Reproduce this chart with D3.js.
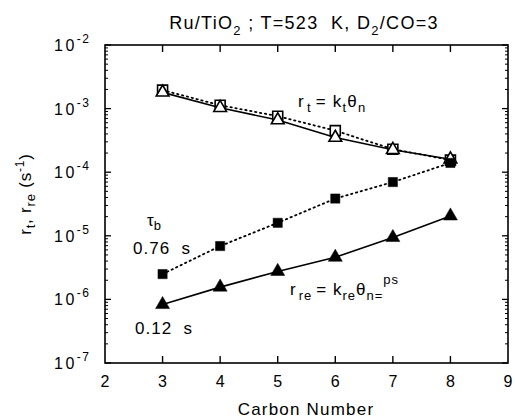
<!DOCTYPE html>
<html>
<head>
<meta charset="utf-8">
<script src="https://cdn.jsdelivr.net/npm/d3@7"></script>
<style>
  html, body { margin: 0; padding: 0; background: #fff; }
  svg { display: block; font-family: "Liberation Sans", Arial, Helvetica, sans-serif; }
</style>
</head>
<body>
<svg id="chart" width="515" height="420"></svg>
<script>
// Carbon number on the x axis
const carbonNumbers = [3, 4, 5, 6, 7, 8];
// r_t for the two residence times (open markers)
const rtOpenSquare   = [1.95e-3, 1.13e-3, 7.6e-4, 4.5e-4, 2.3e-4, 1.55e-4];
const rtOpenTriangle = [1.8e-3, 1.03e-3, 6.6e-4, 3.5e-4, 2.25e-4, 1.6e-4];
// r_re for the two residence times (filled markers)
const rreFilledSquare   = [2.5e-6, 6.9e-6, 1.6e-5, 3.85e-5, 7.0e-5, 1.4e-4];
const rreFilledTriangle = [8.3e-7, 1.56e-6, 2.75e-6, 4.6e-6, 9.4e-6, 2.05e-5];
// Axis ticks
const xTicks = [2, 3, 4, 5, 6, 7, 8, 9];
const yExponents = [-2, -3, -4, -5, -6, -7];

const svg = d3.select("#chart");
const plotLeft = 105, plotRight = 508, plotTop = 45, plotBottom = 363;

const x = d3.scaleLinear().domain([2, 9]).range([plotLeft, plotRight]);
const y = d3.scaleLog().domain([1e-7, 1e-2]).range([plotBottom, plotTop]);

// frame
svg.append("rect")
  .attr("x", plotLeft).attr("y", plotTop)
  .attr("width", plotRight - plotLeft).attr("height", plotBottom - plotTop)
  .attr("fill", "none").attr("stroke", "#000").attr("stroke-width", 1.6);

// x ticks (inward, top and bottom)
const inner = xTicks.filter(d => d > 2 && d < 9);
svg.append("g").selectAll("line").data(inner).join("line")
  .attr("x1", d => x(d)).attr("x2", d => x(d))
  .attr("y1", plotBottom).attr("y2", plotBottom - 7)
  .attr("stroke", "#000").attr("stroke-width", 1.4);
svg.append("g").selectAll("line").data(inner).join("line")
  .attr("x1", d => x(d)).attr("x2", d => x(d))
  .attr("y1", plotTop).attr("y2", plotTop + 7)
  .attr("stroke", "#000").attr("stroke-width", 1.4);

// x tick labels
svg.append("g").selectAll("text").data(xTicks).join("text")
  .attr("x", d => x(d)).attr("y", 387)
  .attr("text-anchor", "middle").attr("font-size", 16)
  .text(d => d);

// y ticks: decades and minor ticks, both sides inward
const yMajor = yExponents.map(e => Math.pow(10, e));
const yMinor = [];
for (let e = -7; e < -2; e++) for (let m = 2; m <= 9; m++) yMinor.push(m * Math.pow(10, e));
[[plotLeft, 1], [plotRight, -1]].forEach(([x0, dir]) => {
  svg.append("g").selectAll("line").data(yMajor).join("line")
    .attr("x1", x0).attr("x2", x0 + dir * 6)
    .attr("y1", d => y(d)).attr("y2", d => y(d))
    .attr("stroke", "#000").attr("stroke-width", 1.3);
  svg.append("g").selectAll("line").data(yMinor).join("line")
    .attr("x1", x0).attr("x2", x0 + dir * 3)
    .attr("y1", d => y(d)).attr("y2", d => y(d))
    .attr("stroke", "#000").attr("stroke-width", 1);
});

// y tick labels: 10 with a raised exponent
const yl = svg.append("g").selectAll("text").data(yExponents).join("text")
  .attr("x", 54).attr("y", e => y(Math.pow(10, e)) + 6)
  .attr("font-size", 16).attr("letter-spacing", 2.5);
yl.append("tspan").text("10");
yl.append("tspan").attr("dx", 0).attr("dy", -8).attr("font-size", 12)
  .attr("letter-spacing", 1.5).text(e => "-" + Math.abs(e));

// series
const line = d3.line().x((d, i) => x(carbonNumbers[i])).y(d => y(d));
function drawLine(values, dashed) {
  svg.append("path").datum(values)
    .attr("d", line).attr("fill", "none").attr("stroke", "#000")
    .attr("stroke-width", dashed ? 1.8 : 1.6)
    .attr("stroke-dasharray", dashed ? "1.4,3.6" : null)
    .attr("stroke-linecap", dashed ? "round" : "butt");
}
drawLine(rtOpenSquare, true);
drawLine(rtOpenTriangle, false);
drawLine(rreFilledSquare, true);
drawLine(rreFilledTriangle, false);

function drawMarkers(values, type, filled, size) {
  const sym = d3.symbol().type(type).size(size);
  svg.append("g").selectAll("path").data(values).join("path")
    .attr("transform", (d, i) => `translate(${x(carbonNumbers[i])},${y(d)})`)
    .attr("d", sym)
    .attr("fill", filled ? "#000" : "#fff")
    .attr("stroke", "#000").attr("stroke-width", filled ? 0.5 : 1.6);
}
drawMarkers(rtOpenSquare, d3.symbolSquare, false, 100);
drawMarkers(rtOpenTriangle, d3.symbolTriangle, false, 70);
drawMarkers(rreFilledSquare, d3.symbolSquare, true, 85);
drawMarkers(rreFilledTriangle, d3.symbolTriangle, true, 85);

// title
const title = svg.append("text").attr("x", 304).attr("y", 29)
  .attr("text-anchor", "middle").attr("font-size", 18).attr("letter-spacing", 1.3)
  .attr("xml:space", "preserve");
title.append("tspan").text("Ru/TiO");
title.append("tspan").attr("dy", 6).attr("font-size", 13).text("2");
title.append("tspan").attr("dy", -6).text(" ; T=523  K, D");
title.append("tspan").attr("dy", 6).attr("font-size", 13).text("2");
title.append("tspan").attr("dy", -6).text("/CO=3");

// rate expressions
const rt = svg.append("text").attr("x", 298).attr("y", 107)
  .attr("font-size", 17).attr("letter-spacing", 1.2);
rt.append("tspan").text("r");
rt.append("tspan").attr("dx", 2).attr("dy", 5).attr("font-size", 13).text("t");
rt.append("tspan").attr("dx", 4).attr("dy", -5).text("= k");
rt.append("tspan").attr("dy", 5).attr("font-size", 13).text("t");
rt.append("tspan").attr("dy", -5).text("θ");
rt.append("tspan").attr("dy", 5).attr("font-size", 13).text("n");

const rre = svg.append("text").attr("x", 290).attr("y", 295)
  .attr("font-size", 17).attr("letter-spacing", 1);
rre.append("tspan").text("r");
rre.append("tspan").attr("dx", 2).attr("dy", 5).attr("font-size", 13).text("re");
rre.append("tspan").attr("dx", 4).attr("dy", -5).text("= k");
rre.append("tspan").attr("dy", 5).attr("font-size", 13).text("re");
rre.append("tspan").attr("dy", -5).text("θ");
rre.append("tspan").attr("dy", 5).attr("font-size", 13).text("n=");
rre.append("tspan").attr("dy", -16).attr("font-size", 13).text("ps");

// residence times
const tau = svg.append("text").attr("x", 147).attr("y", 226).attr("font-size", 17);
tau.append("tspan").text("τ");
tau.append("tspan").attr("dy", 4).attr("font-size", 13).text("b");
svg.append("text").attr("x", 133).attr("y", 254).attr("font-size", 17)
  .attr("letter-spacing", 1).attr("xml:space", "preserve").text("0.76  s");
svg.append("text").attr("x", 135).attr("y", 334).attr("font-size", 17)
  .attr("letter-spacing", 1).attr("xml:space", "preserve").text("0.12  s");

// axis titles
svg.append("text").attr("x", 306).attr("y", 415)
  .attr("text-anchor", "middle").attr("font-size", 17).attr("letter-spacing", 1.2)
  .text("Carbon Number");

const yt = svg.append("text")
  .attr("transform", "translate(31,194) rotate(-90)")
  .attr("text-anchor", "middle").attr("font-size", 17).attr("letter-spacing", 0.8);
yt.append("tspan").text("r");
yt.append("tspan").attr("dy", 4).attr("font-size", 13).text("t");
yt.append("tspan").attr("dy", -4).text(", r");
yt.append("tspan").attr("dy", 4).attr("font-size", 13).text("re");
yt.append("tspan").attr("dy", -4).text(" (s");
yt.append("tspan").attr("dy", -7).attr("font-size", 12).text("-1");
yt.append("tspan").attr("dy", 7).text(")");
</script>
</body>
</html>
